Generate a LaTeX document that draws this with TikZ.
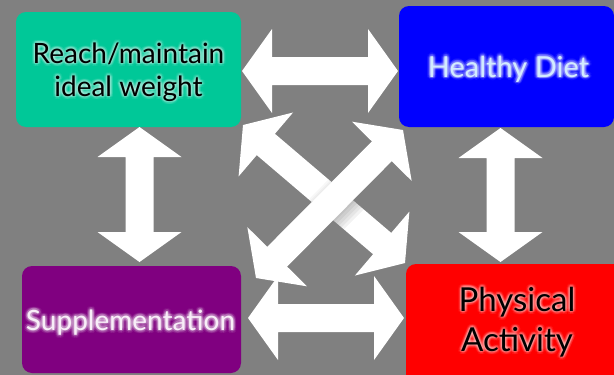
\documentclass[tikz,border=0pt]{standalone}
\usepackage{fontspec}
\setmainfont{Lato}
\usetikzlibrary{calc}
\definecolor{bggray}{RGB}{128,128,128}
\definecolor{tealbox}{RGB}{0,200,152}
\definecolor{bluebox}{RGB}{0,0,255}
\definecolor{purplebox}{RGB}{128,0,128}
\definecolor{redbox}{RGB}{255,0,0}
\definecolor{dietcol}{RGB}{210,235,255}
\definecolor{suppcol}{RGB}{248,238,248}
\newcommand\arrowshape[2]{(#1) -- ($(#1)!30pt!(#2)!42pt!90:(#2)$) -- ($(#1)!30pt!(#2)!14pt!90:(#2)$) -- ($(#2)!30pt!(#1)!14pt!-90:(#1)$) -- ($(#2)!30pt!(#1)!42pt!-90:(#1)$) -- (#2) -- ($(#2)!30pt!(#1)!42pt!90:(#1)$) -- ($(#2)!30pt!(#1)!14pt!90:(#1)$) -- ($(#1)!30pt!(#2)!14pt!-90:(#2)$) -- ($(#1)!30pt!(#2)!42pt!-90:(#2)$) -- cycle}
\newcommand\glowlabel[6]{%
  \coordinate (#1) at #2;
  \foreach \gr/\go in {3.2/0.06,1.8/0.10}{
    \foreach \ang in {0,30,...,330}{
      \node[font=#3, text=#5, text opacity=\go, align=center, inner sep=0pt] (#1g\ang) at ($(#1)+(\ang:\gr)$) {#6};}}
  \node[font=#3, text=#4, align=center, inner sep=0pt] (#1t) at (#1) {#6};}
\tikzset{
  box/.style={rounded corners=10pt, inner sep=0pt},
  blockarrow/.style={fill=white, draw=none}
}
\begin{document}
\begin{tikzpicture}[x=1pt,y=-1pt]
\clip (0,0) rectangle (614,375);
\fill[bggray] (0,0) rectangle (614,375);

% boxes
\node[box, fill=tealbox, minimum width=225pt, minimum height=115pt] (weight) at (128.5,69.5) {};
\node[box, fill=bluebox, minimum width=215pt, minimum height=121pt] (diet) at (506.5,66.5) {};
\node[box, fill=purplebox, minimum width=219pt, minimum height=107pt] (supp) at (131.5,319.5) {};
\node[box, fill=redbox, minimum width=222pt, minimum height=126pt] (phys) at (517,327) {};

% arrow end points
\coordinate (h1a) at (242,71);   \coordinate (h1b) at (398,71);
\coordinate (h2a) at (248,318);  \coordinate (h2b) at (404,318);
\coordinate (v1a) at (139.5,127); \coordinate (v1b) at (139.5,262);
\coordinate (v2a) at (500.5,128); \coordinate (v2b) at (500.5,262);
\coordinate (d1a) at (243,125);  \coordinate (d1b) at (405,263);
\coordinate (d2a) at (256,278);  \coordinate (d2b) at (403,130);

\fill[blockarrow] \arrowshape{h1a}{h1b};
\fill[blockarrow] \arrowshape{h2a}{h2b};
\fill[blockarrow] \arrowshape{v1a}{v1b};
\fill[blockarrow] \arrowshape{v2a}{v2b};
\fill[blockarrow] \arrowshape{d1a}{d1b};
\begin{scope}
  \clip \arrowshape{d1a}{d1b};
  \foreach \w in {16pt,19pt,22pt,25pt,28pt}{
    \fill[black, opacity=0.05] ($(d2a)!14pt!90:(d2b)$) -- ($(d2b)!14pt!-90:(d2a)$) -- ($(d2b)!\w!90:(d2a)$) -- ($(d2a)!\w!-90:(d2b)$) -- cycle;}
  \foreach \w in {16pt,18pt}{
    \fill[black, opacity=0.03] ($(d2a)!14pt!-90:(d2b)$) -- ($(d2b)!14pt!90:(d2a)$) -- ($(d2b)!\w!-90:(d2a)$) -- ($(d2a)!\w!90:(d2b)$) -- cycle;}
\end{scope}
\fill[blockarrow] \arrowshape{d2a}{d2b};

% labels
\glowlabel{wl}{(128.5,72)}{{\fontsize{28}{33}\selectfont}}{black}{white}{Reach/maintain\\ideal weight}
\glowlabel{dl}{(508.5,69)}{{\fontsize{29}{34}\selectfont}}{dietcol}{white}{Healthy Diet}
\glowlabel{sl}{(130.5,322.5)}{{\fontsize{28}{33}\selectfont}}{suppcol}{white}{Supplementation}
\glowlabel{pl}{(517,322)}{{\fontsize{33}{40}\selectfont}}{black}{white}{Physical\\Activity}
\end{tikzpicture}
\end{document}
